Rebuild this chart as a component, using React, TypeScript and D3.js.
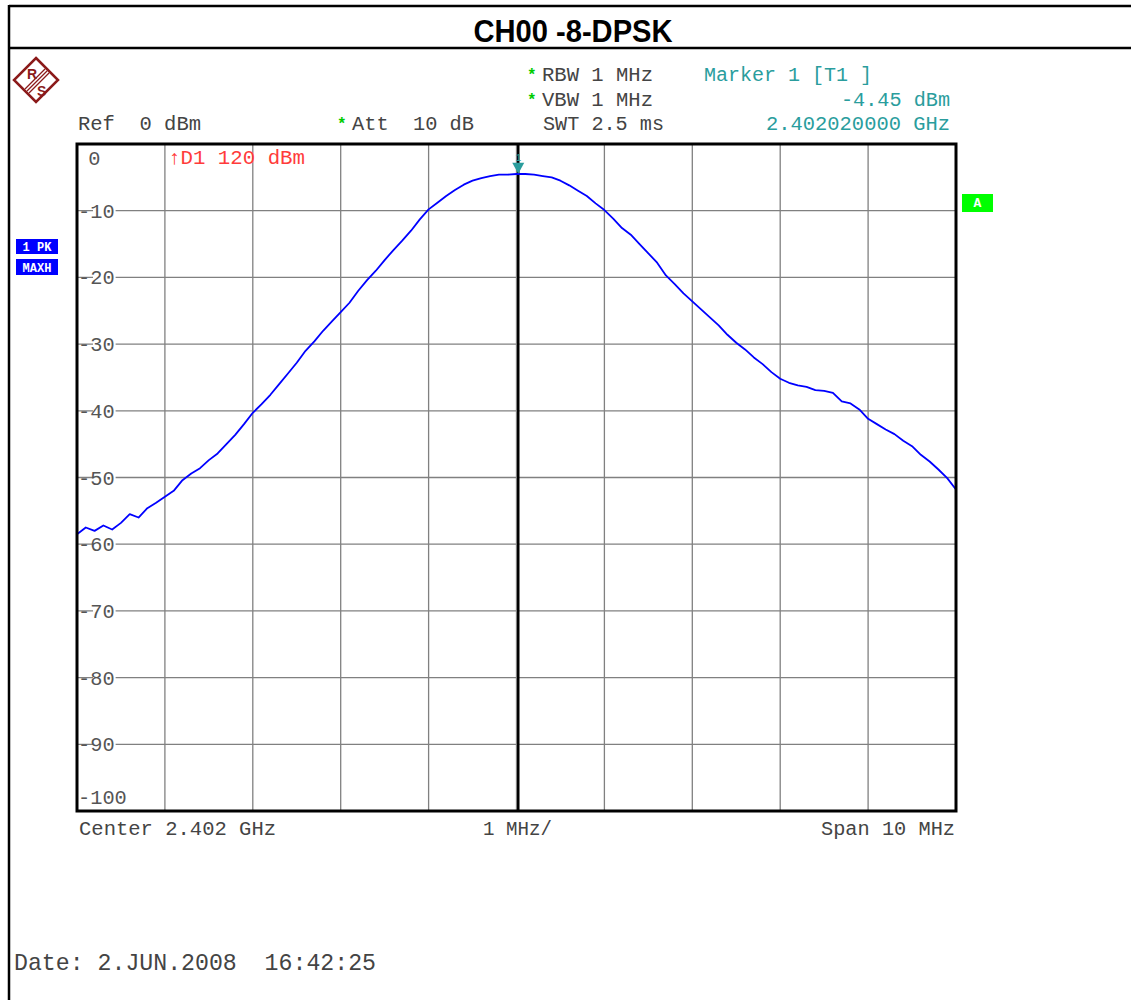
import React from "react";
import * as d3 from "d3";

// ---- data ----
const startGHz = 2.397;
const spanMHz = 10;
const stepMHz = 0.1;
const levelsDbm: number[] = [
  -58.5, -57.5, -58.0, -57.2, -57.8, -56.8, -55.5, -56.0, -54.6, -53.8,
  -52.9, -52.0, -50.4, -49.4, -48.6, -47.4, -46.4, -45.0, -43.6, -42.0,
  -40.3, -39.0, -37.6, -36.0, -34.4, -32.8, -31.0, -29.6, -28.0, -26.6,
  -25.2, -23.8, -22.0, -20.4, -19.0, -17.4, -15.9, -14.5, -13.0, -11.3,
  -9.8, -8.8, -7.8, -6.9, -6.1, -5.5, -5.1, -4.8, -4.6, -4.6,
  -4.5, -4.5, -4.6, -4.8, -5.0, -5.5, -6.2, -7.0, -7.8, -8.9,
  -9.9, -11.2, -12.6, -13.6, -15.0, -16.4, -17.8, -19.7, -21.0, -22.4,
  -23.6, -24.8, -26.0, -27.2, -28.6, -29.8, -30.8, -32.0, -33.0, -34.2,
  -35.2, -35.8, -36.2, -36.4, -36.9, -37.0, -37.3, -38.6, -38.9, -39.8,
  -41.2, -42.0, -42.8, -43.5, -44.5, -45.3, -46.6, -47.6, -48.8, -50.1,
  -51.8,
];
const yTicks: number[] = [0, -10, -20, -30, -40, -50, -60, -70, -80, -90, -100];
const xDivs: number[] = [0, 1, 2, 3, 4, 5, 6, 7, 8, 9, 10];
const markerMHz = 5.02;
const markerDbm = -4.45;

const title = "CH00 -8-DPSK";
const MONO = "'Liberation Mono', 'Courier New', monospace";

export default function App() {
  const L = 77, R = 956, T = 144, B = 811;
  const x = d3.scaleLinear().domain([0, spanMHz]).range([L, R]);
  const y = d3.scaleLinear().domain([0, -100]).range([T, B]);
  const pts: [number, number][] = levelsDbm.map((v, i) => [i * stepMHz, v]);
  const line = d3.line<[number, number]>().x((d) => x(d[0])).y((d) => y(d[1]));
  const mx = x(markerMHz);
  const my = y(markerDbm);
  const gray = "#444";
  const teal = "#2a9d9d";

  const monoText = (
    s: string,
    px: number,
    py: number,
    opts: { fill?: string; anchor?: string; len?: number; size?: number } = {}
  ) => (
    <text
      x={px}
      y={py}
      fontFamily={MONO}
      fontSize={opts.size ?? 20}
      fill={opts.fill ?? gray}
      textAnchor={opts.anchor ?? "start"}
      textLength={opts.len}
      lengthAdjust="spacingAndGlyphs"
      xmlSpace="preserve"
      style={{ whiteSpace: "pre" }}
    >
      {s}
    </text>
  );

  return (
    <svg
      width={1131}
      height={1000}
      style={{ position: "absolute", left: 0, top: 0, background: "#fff" }}
    >
      {/* frame */}
      <line x1={9} y1={6} x2={1131} y2={6} stroke="#000" strokeWidth={2.5} />
      <line x1={9} y1={48} x2={1131} y2={48} stroke="#000" strokeWidth={2.5} />
      <line x1={9} y1={5} x2={9} y2={1000} stroke="#000" strokeWidth={2.5} />
      <text
        x={573}
        y={42}
        textAnchor="middle"
        fontFamily="'Liberation Sans Narrow', 'Liberation Sans', Arial, sans-serif"
        fontWeight="bold"
        fontSize={31}
        textLength={199}
        lengthAdjust="spacingAndGlyphs"
        fill="#000"
      >
        {title}
      </text>

      {/* R&S logo */}
      <g transform="translate(36,80)" stroke="#8b1a1a" fill="none">
        <polygon points="0,-22 22,0 0,22 -22,0" strokeWidth={2.5} />
        <line x1={-9} y1={11} x2={11} y2={-9} strokeWidth={1.3} />
        <line x1={-7} y1={13} x2={13} y2={-7} strokeWidth={1.3} />
        <line x1={-11} y1={9} x2={9} y2={-11} strokeWidth={1.3} />
        <text x={-9} y={-1} fontSize={14} fontWeight="bold" fill="#8b1a1a" stroke="none" fontFamily="Liberation Sans">R</text>
        <text x={1} y={16} fontSize={14} fontWeight="bold" fill="#8b1a1a" stroke="none" fontFamily="Liberation Sans">S</text>
      </g>

      {/* header texts */}
      {monoText("Ref  0 dBm", 78, 130, { len: 123 })}
      <text x={337} y={129} fontFamily={MONO} fontSize={16} fill="#00cc00" fontWeight="bold">*</text>
      {monoText("Att  10 dB", 352, 130, { len: 122 })}
      <text x={527} y={80} fontFamily={MONO} fontSize={16} fill="#00cc00" fontWeight="bold">*</text>
      {monoText("RBW 1 MHz", 542, 81, { len: 111 })}
      <text x={527} y={105} fontFamily={MONO} fontSize={16} fill="#00cc00" fontWeight="bold">*</text>
      {monoText("VBW 1 MHz", 542, 106, { len: 111 })}
      {monoText("SWT 2.5 ms", 543, 130, { len: 121 })}
      {monoText("Marker 1 [T1 ]", 704, 81, { fill: teal, len: 168 })}
      {monoText("-4.45 dBm", 950, 106, { fill: teal, anchor: "end", len: 109 })}
      {monoText("2.402020000 GHz", 950, 130, { fill: teal, anchor: "end", len: 184 })}

      {/* side labels */}
      <rect x={16} y={239} width={42} height={15} fill="#0000ff" />
      <text x={37} y={251} textAnchor="middle" fontFamily={MONO} fontWeight="bold" fontSize={12} fill="#fff" xmlSpace="preserve" style={{ whiteSpace: "pre" }}>1 PK</text>
      <rect x={16} y={259} width={42} height={16} fill="#0000ff" />
      <text x={37} y={272} textAnchor="middle" fontFamily={MONO} fontWeight="bold" fontSize={12} fill="#fff">MAXH</text>
      <rect x={962} y={194} width={31} height={18} fill="#00ff00" />
      <text x={977.5} y={207} textAnchor="middle" fontFamily={MONO} fontWeight="bold" fontSize={13} fill="#fff">A</text>

      {/* grid */}
      <g stroke="#808080" strokeWidth={1.3}>
        {xDivs.map((d) => (
          <line key={"vx" + d} x1={x(d)} x2={x(d)} y1={T} y2={B} />
        ))}
        {yTicks.map((d) => (
          <line key={"hy" + d} x1={L} x2={R} y1={y(d)} y2={y(d)} />
        ))}
      </g>

      {/* y labels */}
      {yTicks.map((d) => {
        const gy = d === 0 ? y(d) + 14 : d === -100 ? y(d) - 14 : y(d);
        const s = d === 0 ? " 0" : String(d);
        const w = s.length * 12.2;
        return (
          <g key={"yl" + d}>
            {d !== 0 && d !== -100 && (
              <rect x={93} y={gy - 9} width={w - 14} height={18} fill="#fff" />
            )}
            {monoText(s, d === 0 ? 76 : 78, gy + 7, { fill: "#555", len: w })}
          </g>
        );
      })}

      {/* display line text */}
      {monoText("\u2191D1 120 dBm", 168, 164, { fill: "#ff3b3b", len: 137 })}

      {/* center line */}
      <line x1={mx} x2={mx} y1={T} y2={B} stroke="#000" strokeWidth={2.5} />

      {/* trace */}
      <path d={line(pts) ?? ""} fill="none" stroke="#0000ff" strokeWidth={1.8} strokeLinejoin="round" />

      {/* marker */}
      <polygon
        points={`${mx - 6},${my - 11} ${mx + 6},${my - 11} ${mx},${my}`}
        fill={teal}
      />
      <text x={mx} y={my - 13} textAnchor="middle" fontFamily={MONO} fontSize={10} fill={teal}>1</text>

      {/* plot border */}
      <rect x={L} y={T} width={R - L} height={B - T} fill="none" stroke="#000" strokeWidth={3} />

      {/* bottom texts */}
      {monoText("Center 2.402 GHz", 79, 835, { len: 197 })}
      {monoText("1 MHz/", 483, 835, { len: 69 })}
      {monoText("Span 10 MHz", 955, 835, { anchor: "end", len: 134 })}
      {monoText("Date: 2.JUN.2008  16:42:25", 14, 970, { size: 24, len: 362 })}
    </svg>
  );
}
